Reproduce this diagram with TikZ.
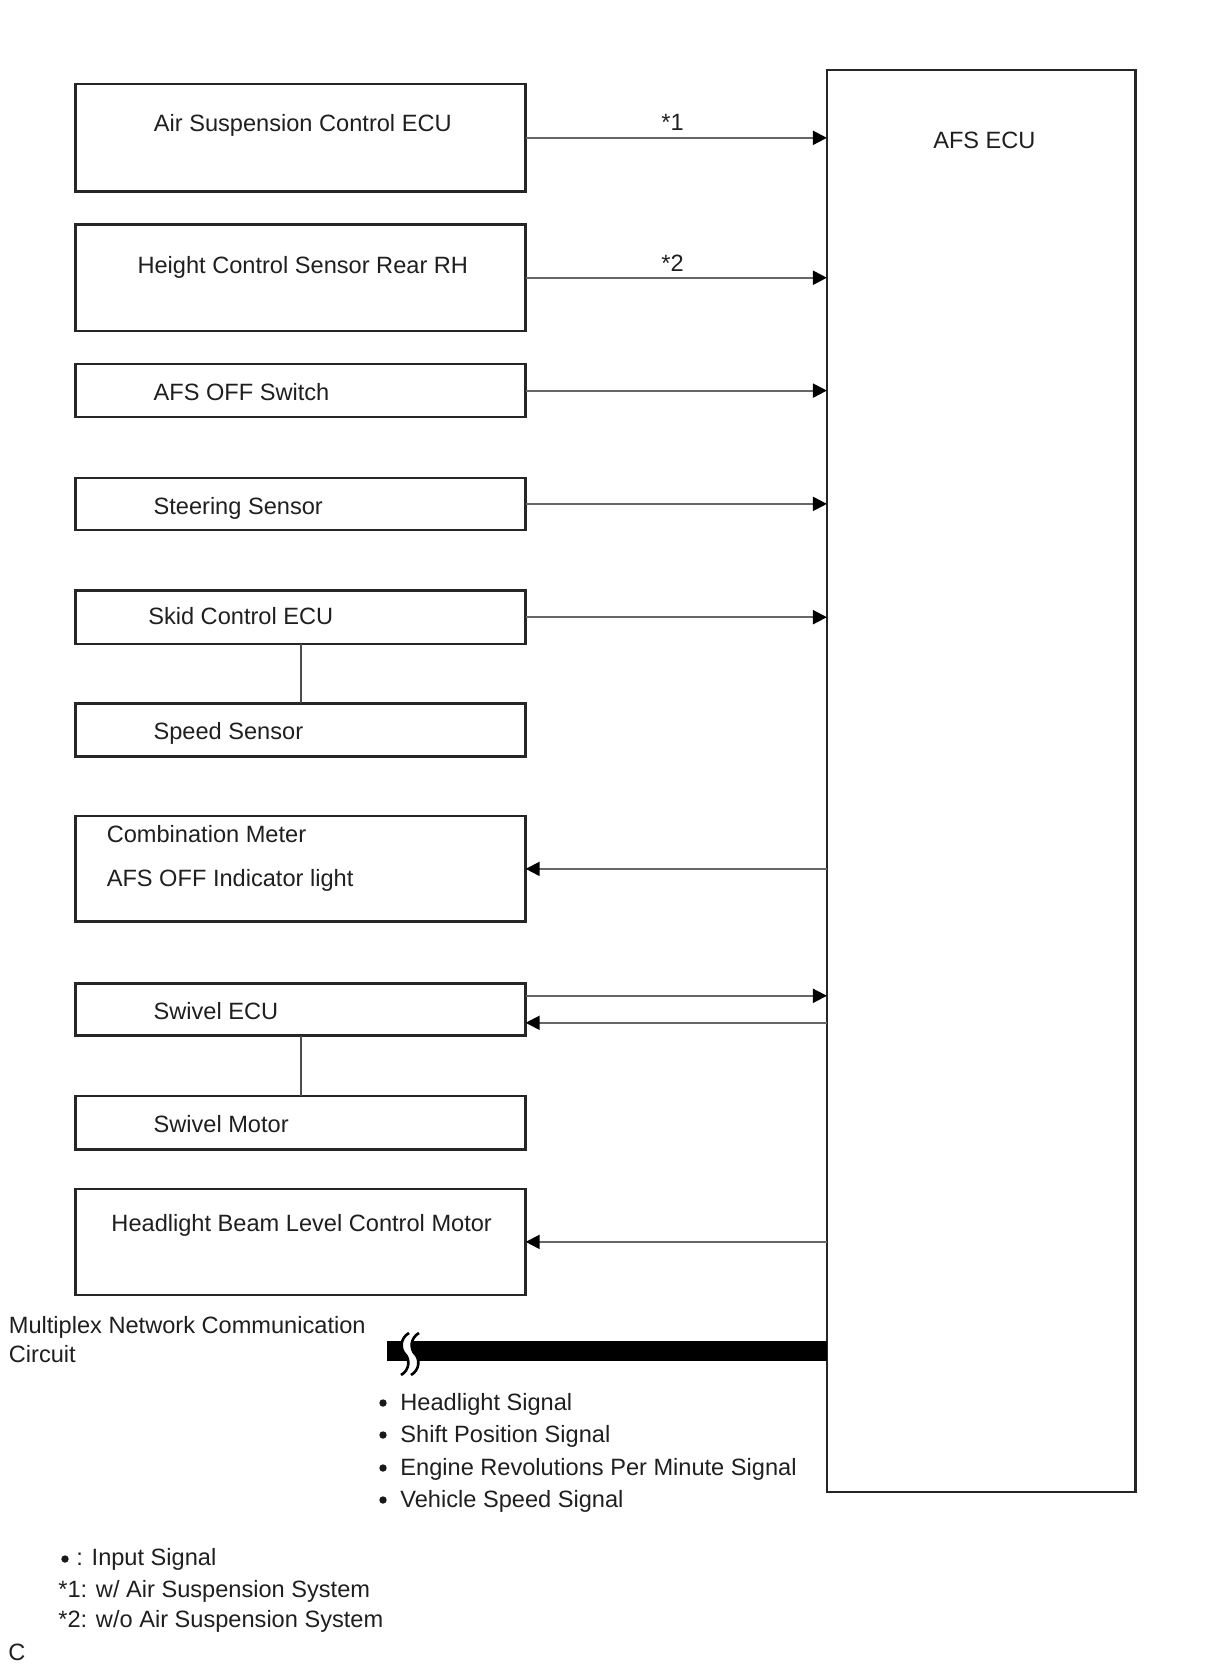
\documentclass[tikz,border=0pt]{standalone}
\usepackage{fontspec}
\setmainfont{Liberation Sans}
\usetikzlibrary{arrows.meta}
\begin{document}
\begin{tikzpicture}[x=0.5pt,y=-0.5pt,
  box/.style={draw=black!85, line width=1.2pt, minimum width=225pt, inner sep=0pt, outer sep=0pt},
  lbl/.style={font=\fontsize{11.8pt}{14pt}\selectfont, text=black!88, inner sep=0pt, yshift=-1.1pt},
  dot/.style={circle, fill=black!90, inner sep=0pt, minimum size=3.7pt},
  arr/.style={draw=black!60, line width=1pt, -{Triangle[length=7pt,width=7pt,color=black]}},
  link/.style={draw=black!70, line width=0.9pt},
]
\useasboundingbox (0,0) rectangle (1210,1668);

% AFS ECU
\node[box, minimum width=154.3pt, minimum height=710.9pt] (ecu) at (981.2,781.1) {};
\node[lbl] (ecut) at (984.4,138.3) {AFS ECU};

% left boxes
\node[box, minimum height=53.75pt] (asc) at (300.65,137.85) {};
\node[lbl] (asct) at (302.8,123.4) {Air Suspension Control ECU};
\node[box, minimum height=53.25pt] (hcs) at (300.65,277.75) {};
\node[lbl] (hcst) at (302.8,265) {Height Control Sensor Rear RH};
\node[box, minimum height=26.6pt] (aos) at (300.65,390.6) {};
\node[lbl, anchor=mid west] (aost) at (153.2,392.7) {AFS OFF Switch};
\node[box, minimum height=26.1pt] (ss) at (300.65,503.9) {};
\node[lbl, anchor=mid west] (sst) at (153.2,506.6) {Steering Sensor};
\node[box, minimum height=26.6pt] (skid) at (300.65,617.2) {};
\node[lbl, anchor=mid west] (skidt) at (147.9,617.2) {Skid Control ECU};
\node[box, minimum height=26.6pt] (spd) at (300.65,730) {};
\node[lbl, anchor=mid west] (spdt) at (153.2,732.2) {Speed Sensor};
\node[box, minimum height=52.7pt] (cm) at (300.65,868.9) {};
\node[lbl, anchor=mid west] (cmt1) at (106.4,835.4) {Combination Meter};
\node[lbl, anchor=mid west] (cmt2) at (106.4,879) {AFS OFF Indicator light};
\node[box, minimum height=26.1pt] (swe) at (300.65,1009.4) {};
\node[lbl, anchor=mid west] (swet) at (153.2,1012) {Swivel ECU};
\node[box, minimum height=26.6pt] (swm) at (300.65,1122.7) {};
\node[lbl, anchor=mid west] (swmt) at (153.2,1124.9) {Swivel Motor};
\node[box, minimum height=53.2pt] (hbl) at (300.65,1241.9) {};
\node[lbl] (hblt) at (301.7,1222.8) {Headlight Beam Level Control Motor};

% connectors
\draw[arr] (asc.east) -- (asc.east -| ecu.west);
\node[lbl] (n1) at (672.6,120.3) {*1};
\draw[arr] (hcs.east) -- (hcs.east -| ecu.west);
\node[lbl] (n2) at (672.6,260.7) {*2};
\draw[arr] (aos.east) -- (aos.east -| ecu.west);
\draw[arr] (ss.east) -- (ss.east -| ecu.west);
\draw[arr] (skid.east) -- (skid.east -| ecu.west);
\draw[link] (skid.south) -- (spd.north);
\draw[arr] (cm.east -| ecu.west) -- (cm.east);
\draw[arr] ([yshift=6.8pt]swe.east) -- ([yshift=6.8pt]swe.east -| ecu.west);
\draw[arr] ([yshift=-6.7pt]swe.east -| ecu.west) -- ([yshift=-6.7pt]swe.east);
\draw[link] (swe.south) -- (swm.north);
\draw[arr] (hbl.east -| ecu.west) -- (hbl.east);

% multiplex bus
\coordinate (busL) at (387,1351);
\draw[line width=9.7pt] (busL) -- (busL -| ecu.west);
\fill[white] (409,1333) .. controls (400,1338) and (400,1349) .. (405,1354)
  .. controls (410,1359) and (410,1370) .. (401,1375)
  -- (411,1375) .. controls (420,1370) and (420,1359) .. (415,1354)
  .. controls (410,1349) and (410,1338) .. (419,1333) -- cycle;
\draw[line width=1.3pt] (409,1333) .. controls (400,1338) and (400,1349) .. (405,1354)
  .. controls (410,1359) and (410,1370) .. (401,1375);
\draw[line width=1.3pt] (419,1333) .. controls (410,1338) and (410,1349) .. (415,1354)
  .. controls (420,1359) and (420,1370) .. (411,1375);

\node[lbl, anchor=mid west] (mux1) at (8.5,1326) {Multiplex Network Communication};
\node[lbl, anchor=mid west] (mux2) at (8.5,1355) {Circuit};

\node[dot] (d1) at (383,1403) {};
\node[lbl, anchor=mid west] (s1) at (400,1402.6) {Headlight Signal};
\node[dot] (d2) at (383,1435) {};
\node[lbl, anchor=mid west] (s2) at (400,1434.6) {Shift Position Signal};
\node[dot] (d3) at (383,1468) {};
\node[lbl, anchor=mid west] (s3) at (400,1467.6) {Engine Revolutions Per Minute Signal};
\node[dot] (d4) at (383,1500) {};
\node[lbl, anchor=mid west] (s4) at (400,1499.5) {Vehicle Speed Signal};

% legend
\node[dot] (ld) at (65,1559) {};
\node[lbl, anchor=mid west] (lg1) at (76,1558) {: Input Signal};
\node[lbl, anchor=mid west] (lg2) at (58,1590) {*1: w/ Air Suspension System};
\node[lbl, anchor=mid west] (lg3) at (58,1620) {*2: w/o Air Suspension System};
\node[lbl, anchor=mid west] (cc) at (8,1653) {C};
\end{tikzpicture}
\end{document}
